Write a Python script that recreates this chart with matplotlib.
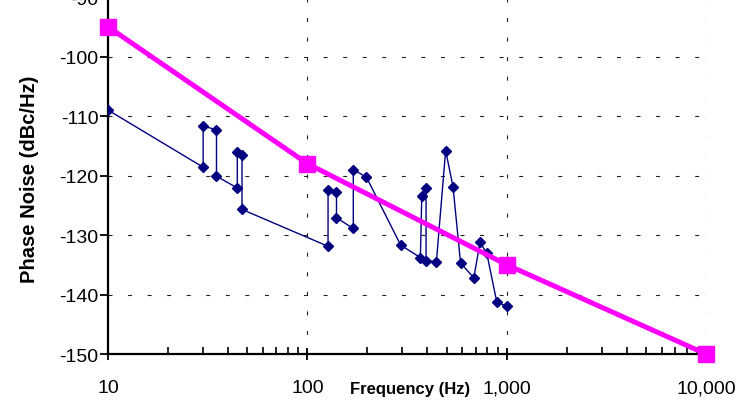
import matplotlib
matplotlib.use("Agg")
import matplotlib.pyplot as plt
from matplotlib.ticker import FixedLocator, LogLocator, NullFormatter

plt.rcParams['font.family'] = ['Liberation Sans', 'DejaVu Sans']
plt.rcParams['axes.unicode_minus'] = False

# Measured phase noise (frequency offset in Hz, dBc/Hz)
meas_freq = [10, 30, 30, 35, 35, 44.5, 44.5, 47, 47, 127, 127, 140, 140, 170, 170,
             198, 294, 369, 375, 394, 394, 444, 494, 538, 587, 684, 735, 795, 891, 1000]
meas_noise = [-109, -118.6, -111.7, -112.3, -120.1, -122.1, -116.0, -116.5, -125.7,
              -131.9, -122.4, -122.7, -127.1, -128.9, -119.0, -120.3, -131.7, -133.8,
              -123.4, -122.1, -134.3, -134.5, -115.8, -121.9, -134.7, -137.2, -131.2,
              -133.1, -141.2, -142.0]

# Specification mask
spec_freq = [10, 100, 1000, 10000]
spec_noise = [-95, -118, -135, -150]

x_ticks = [10, 100, 1000, 10000]
x_labels = ["10", "100", "1,000", "10,000"]
y_ticks = [-150, -140, -130, -120, -110, -100, -90]

fig = plt.figure(figsize=(7.42, 4.02), dpi=100)
ax = fig.add_axes([0.1456, 0.1169, 0.8059, 0.888])

ax.plot(meas_freq, meas_noise, color='#000080', lw=1.0, marker='D', ms=5.5, zorder=3)
ax.plot(spec_freq, spec_noise, color='#FF00FF', lw=3.6, marker='s', ms=12,
        clip_on=False, zorder=4)

ax.set_xscale('log')
ax.set_xlim(10, 10000)
ax.set_ylim(-150, -90)

ax.xaxis.set_major_locator(FixedLocator(x_ticks))
ax.set_xticklabels(x_labels)
ax.xaxis.set_minor_locator(LogLocator(base=10, subs=range(2, 10)))
ax.xaxis.set_minor_formatter(NullFormatter())
ax.set_yticks(y_ticks)

ax.tick_params(axis='x', which='major', direction='inout', length=8, width=1.3,
               labelsize=14, pad=14)
ax.tick_params(axis='x', which='minor', direction='in', length=5, width=1.2)
ax.tick_params(axis='y', which='major', direction='out', length=6, width=1.3,
               labelsize=14, pad=1)

for side in ['top', 'right']:
    ax.spines[side].set_visible(False)
for side in ['left', 'bottom']:
    ax.spines[side].set_linewidth(1.6)

ax.grid(True, which='major', color='#222222', lw=0.8, linestyle=(0, (3.6, 14)))

ax.set_xlabel("Frequency (Hz)", fontsize=12, fontweight='bold', va='center')
ax.xaxis.set_label_coords(0.505, -0.098)
ax.set_ylabel("Phase Noise (dBc/Hz)", fontsize=14.5, fontweight='bold', va='center')
ax.yaxis.set_label_coords(-0.132, 0.493)

fig.savefig("out.png", dpi=100)
